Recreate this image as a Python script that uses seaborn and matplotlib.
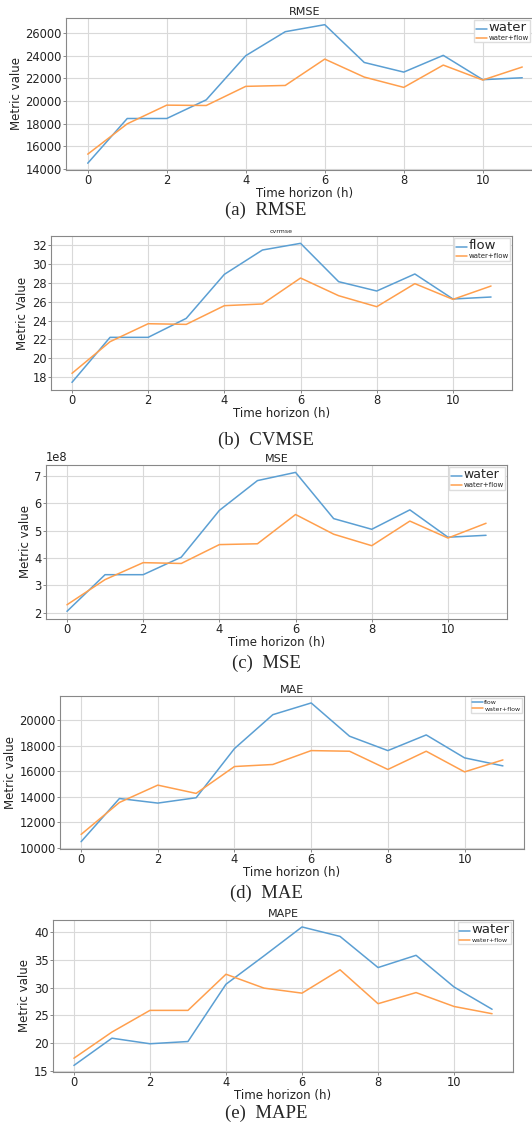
import numpy as np
import pandas as pd
import matplotlib
matplotlib.use("Agg")
import matplotlib.pyplot as plt
import seaborn as sns

hours = list(range(12))

rmse_water = [14500, 18450, 18450, 20100, 24000, 26120, 26740, 23400, 22550, 24030, 21880, 22050]
rmse_wf = [15300, 17980, 19630, 19600, 21290, 21370, 23700, 22110, 21200, 23170, 21850, 23000]

cv_flow = [17.43, 22.22, 22.22, 24.24, 28.92, 31.51, 32.22, 28.14, 27.15, 28.96, 26.30, 26.51]
cv_wf = [18.39, 21.76, 23.67, 23.60, 25.59, 25.77, 28.53, 26.65, 25.48, 27.93, 26.26, 27.68]

mse_water = [2.05e8, 3.39e8, 3.39e8, 4.03e8, 5.74e8, 6.83e8, 7.13e8, 5.44e8, 5.05e8, 5.76e8, 4.76e8, 4.83e8]
mse_wf = [2.29e8, 3.21e8, 3.83e8, 3.80e8, 4.49e8, 4.52e8, 5.59e8, 4.87e8, 4.45e8, 5.35e8, 4.73e8, 5.27e8]

mae_flow = [10470, 13860, 13500, 13920, 17780, 20440, 21360, 18750, 17620, 18850, 17050, 16420]
mae_wf = [11040, 13550, 14910, 14260, 16370, 16530, 17620, 17570, 16140, 17570, 15950, 16890]

mape_water = [16.0, 20.9, 19.9, 20.3, 30.6, 35.7, 40.9, 39.2, 33.6, 35.8, 30.1, 26.1]
mape_wf = [17.3, 22.0, 25.9, 25.9, 32.4, 29.9, 29.0, 33.2, 27.1, 29.1, 26.6, 25.3]

panels = [
    dict(title="RMSE", tfs=8, ylabel="Metric value", s1=rmse_water, l1="water", l1fs=9.5, s2=rmse_wf, l2fs=5,
         ylim=(13900, 27330), yticks=[14000, 16000, 18000, 20000, 22000, 24000, 26000],
         box=(66, 18, 544, 170), caption="(a)  RMSE", cy=210, legx=530),
    dict(title="cvrmse", tfs=4.5, ylabel="Metric Value", s1=cv_flow, l1="flow", l1fs=9.5, s2=cv_wf, l2fs=5,
         ylim=(16.62, 33.0), yticks=[18, 20, 22, 24, 26, 28, 30, 32],
         box=(51, 236, 512, 390), caption="(b)  CVMSE", cy=440, legx=None),
    dict(title="MSE", tfs=8, ylabel="Metric value", s1=mse_water, l1="water", l1fs=9, s2=mse_wf, l2fs=5,
         ylim=(1.77e8, 7.40e8), yticks=[2e8, 3e8, 4e8, 5e8, 6e8, 7e8],
         box=(46, 465, 507, 619), caption="(c)  MSE", cy=663, legx=None),
    dict(title="MAE", tfs=8, ylabel="Metric value", s1=mae_flow, l1="flow", l1fs=4.5, s2=mae_wf, l2fs=4.5,
         ylim=(9896, 21906), yticks=[10000, 12000, 14000, 16000, 18000, 20000],
         box=(60, 696, 524, 849), caption="(d)  MAE", cy=893, legx=None),
    dict(title="MAPE", tfs=8, ylabel="Metric value", s1=mape_water, l1="water", l1fs=9.5, s2=mape_wf, l2fs=4.5,
         ylim=(14.82, 42.15), yticks=[15, 20, 25, 30, 35, 40],
         box=(53, 920, 513, 1072), caption="(e)  MAPE", cy=1113, legx=None),
]

sns.set_style("whitegrid", {"grid.color": "#d9d9d9", "axes.edgecolor": "#888888",
                            "xtick.bottom": True, "ytick.left": True})
plt.rcParams["font.family"] = ["DejaVu Sans"]

W, H = 532, 1124
fig = plt.figure(figsize=(W / 100, H / 100), dpi=100)

blue = "#5b9fd3"
orange = "#ff9f4d"

for p in panels:
    l, t, r, b = p["box"]
    ax = fig.add_axes([l / W, 1 - b / H, (r - l) / W, (b - t) / H])
    df = pd.DataFrame({"h": hours + hours,
                       "v": list(p["s1"]) + list(p["s2"]),
                       "series": [p["l1"]] * 12 + ["water+flow"] * 12})
    sns.lineplot(data=df, x="h", y="v", hue="series", palette=[blue, orange],
                 linewidth=1.1, ax=ax)
    ax.set_xlim(-0.55, 11.55)
    ax.set_ylim(*p["ylim"])
    ax.set_yticks(p["yticks"])
    ax.set_xticks([0, 2, 4, 6, 8, 10])
    ax.tick_params(axis="both", labelsize=8.3, length=2, width=0.6,
                   pad=1, grid_color="#d9d9d9", grid_linewidth=0.8, colors="#777777")
    for lab in ax.get_xticklabels() + ax.get_yticklabels():
        lab.set_color("#222222")
    ax.yaxis.get_offset_text().set_fontsize(8.3)
    ax.yaxis.get_offset_text().set_color("#222222")
    ax.set_xlabel("Time horizon (h)", fontsize=8.5, labelpad=0, color="#222222")
    ax.set_ylabel(p["ylabel"], fontsize=8.5, labelpad=2, color="#222222")
    ax.set_title(p["title"], fontsize=p["tfs"], pad=2, color="#222222")
    for sp in ax.spines.values():
        sp.set_color("#888888")
        sp.set_linewidth(0.8)
    kw = dict(fontsize=5, handlelength=1.6, handletextpad=0.2,
              borderpad=0.2, labelspacing=0.1, framealpha=1, edgecolor="#dddddd",
              fancybox=False)
    if p["legx"] is not None:
        leg = ax.legend(loc="upper right",
                        bbox_to_anchor=(p["legx"] / W, 1 - (t + 2) / H),
                        bbox_transform=fig.transFigure, borderaxespad=0, **kw)
    else:
        leg = ax.legend(loc="upper right", borderaxespad=0.3, **kw)
    texts = leg.get_texts()
    texts[0].set_fontsize(p["l1fs"])
    texts[1].set_fontsize(p["l2fs"])
    fig.text(0.5, 1 - p["cy"] / H, p["caption"], ha="center", va="center",
             fontsize=13.5, family="Liberation Serif")

fig.savefig("out.png", dpi=100)
